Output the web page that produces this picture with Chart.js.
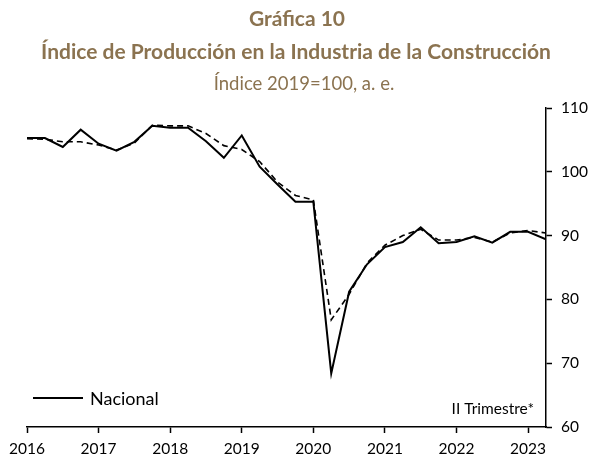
<!DOCTYPE html>
<html>
<head>
<meta charset="utf-8">
<script src="https://cdn.jsdelivr.net/npm/chart.js@4.4.0/dist/chart.umd.min.js"></script>
<style>
  body { margin: 0; background: #fff; }
</style>
</head>
<body>
<canvas id="graficaConstruccion" width="593" height="457"></canvas>
<script>
// trimestres 2016-I a 2023-II
var trimestres = [
    '2016-1','2016-2','2016-3','2016-4',
    '2017-1','2017-2','2017-3','2017-4',
    '2018-1','2018-2','2018-3','2018-4',
    '2019-1','2019-2','2019-3','2019-4',
    '2020-1','2020-2','2020-3','2020-4',
    '2021-1','2021-2','2021-3','2021-4',
    '2022-1','2022-2','2022-3','2022-4',
    '2023-1','2023-2'
];
var nacional = [
    105.3, 105.3, 103.9, 106.6,
    104.4, 103.3, 104.7, 107.2,
    106.9, 106.9, 104.8, 102.2,
    105.7, 100.8, 98.0, 95.3,
    95.3, 68.4, 81.2, 85.5,
    88.2, 89.0, 91.3, 88.8,
    89.0, 89.9, 88.9, 90.6,
    90.6, 89.4
];
var tendencia = [
    105.2, 105.1, 104.7, 104.7,
    104.2, 103.4, 104.5, 107.3,
    107.2, 107.2, 106.0, 104.1,
    103.5, 101.6, 98.4, 96.3,
    95.6, 76.8, 80.8, 85.7,
    88.5, 90.0, 91.0, 89.3,
    89.3, 89.7, 89.0, 90.4,
    90.8, 90.4
];
var anios = [2016, 2017, 2018, 2019, 2020, 2021, 2022, 2023];
var ticksY = [60, 70, 80, 90, 100, 110];

var cafe = '#8B7350';
var fuente = 'Lato, "Noto Sans", sans-serif';

function aPuntos(serie) {
    return serie.map(function (v, i) {
        var p = trimestres[i].split('-');
        return { x: Number(p[0]) + (Number(p[1]) - 1) / 4, y: v };
    });
}

// titulos, leyenda y nota
var textos = {
    id: 'textos',
    afterDraw: function (chart) {
        var c = chart.ctx;
        var area = chart.chartArea;
        c.save();
        c.fillStyle = cafe;
        c.textAlign = 'center';
        c.textBaseline = 'alphabetic';
        c.font = 'bold 21px ' + fuente;
        c.fillText('Gráfica 10', 297, 26);
        c.fillText('Índice de Producción en la Industria de la Construcción', 296, 59);
        c.font = '18.5px ' + fuente;
        c.fillText('Índice 2019=100, a. e.', 304, 90);

        c.strokeStyle = '#000';
        c.lineWidth = 2;
        c.beginPath();
        c.moveTo(33, 398);
        c.lineTo(83, 398);
        c.stroke();
        c.fillStyle = '#000';
        c.textAlign = 'left';
        c.font = '18px ' + fuente;
        c.fillText('Nacional', 90, 405);

        c.textAlign = 'right';
        c.font = '15.5px ' + fuente;
        c.fillText('II Trimestre*', area.right - 12, 414);
        c.restore();
    }
};

var ctx = document.getElementById('graficaConstruccion').getContext('2d');
var graficaConstruccion = new Chart(ctx, {
    type: 'line',
    data: {
        datasets: [{
            label: 'Nacional',
            data: aPuntos(nacional),
            borderColor: '#000',
            borderWidth: 2,
            pointRadius: 0,
            tension: 0
        }, {
            label: 'Tendencia',
            data: aPuntos(tendencia),
            borderColor: '#000',
            borderWidth: 1.6,
            borderDash: [6, 4],
            pointRadius: 0,
            tension: 0
        }]
    },
    options: {
        responsive: false,
        animation: false,
        layout: { padding: { top: 108, left: 27, right: 0, bottom: 0 } },
        plugins: {
            legend: { display: false },
            title: { display: false },
            tooltip: { enabled: false }
        },
        scales: {
            x: {
                type: 'linear',
                min: anios[0],
                max: 2023.25,
                afterBuildTicks: function (scale) {
                    scale.ticks = anios.map(function (a) { return { value: a }; });
                },
                afterFit: function (scale) { scale.height = 30; },
                ticks: {
                    callback: function (v) { return String(v); },
                    color: '#000',
                    font: { family: fuente, size: 15.5 },
                    padding: 7,
                    maxRotation: 0
                },
                grid: {
                    drawOnChartArea: false,
                    color: '#000',
                    tickLength: 6,
                    tickWidth: 1.5
                },
                border: { color: '#000', width: 1.5 }
            },
            y: {
                position: 'right',
                min: ticksY[0],
                max: ticksY[ticksY.length - 1],
                afterBuildTicks: function (scale) {
                    scale.ticks = ticksY.map(function (v) { return { value: v }; });
                },
                afterFit: function (scale) { scale.width = 47; },
                ticks: {
                    color: '#000',
                    font: { family: fuente, size: 15.5 },
                    padding: 9
                },
                grid: {
                    drawOnChartArea: false,
                    color: '#000',
                    tickLength: 6,
                    tickWidth: 1.5
                },
                border: { color: '#000', width: 1.5 }
            }
        }
    },
    plugins: [textos]
});
</script>
</body>
</html>
